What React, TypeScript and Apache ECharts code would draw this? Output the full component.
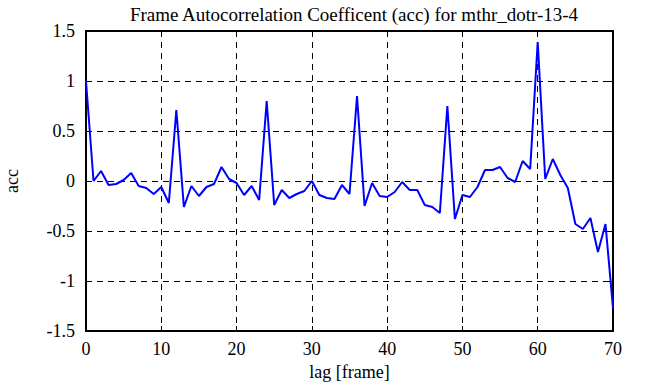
import React, { useEffect, useRef } from "react";
import * as echarts from "echarts";

const lags: number[] = Array.from({ length: 71 }, (_, i) => i);
const acc: number[] = [
  1.0, 0.0, 0.1, -0.04, -0.03, 0.01, 0.08, -0.05, -0.07, -0.13,
  -0.06, -0.22, 0.71, -0.26, -0.05, -0.15, -0.06, -0.03, 0.14, 0.02,
  -0.02, -0.14, -0.05, -0.19, 0.8, -0.24, -0.09, -0.17, -0.13, -0.1,
  0.0, -0.14, -0.17, -0.18, -0.04, -0.13, 0.85, -0.25, -0.02, -0.15,
  -0.16, -0.11, -0.01, -0.09, -0.09, -0.24, -0.26, -0.32, 0.75, -0.38,
  -0.14, -0.16, -0.06, 0.11, 0.11, 0.14, 0.03, -0.01, 0.2, 0.12,
  1.39, 0.02, 0.22, 0.06, -0.07, -0.43, -0.48, -0.37, -0.71, -0.43,
  -1.27,
];
const titleText = "Frame Autocorrelation Coefficent (acc) for mthr_dotr-13-4";
const xName = "lag [frame]";
const yName = "acc";

const FONT = "Liberation Serif";

export default function App() {
  const ref = useRef<HTMLDivElement>(null);
  useEffect(() => {
    if (!ref.current) return;
    const chart = echarts.init(ref.current, undefined, { renderer: "svg" });
    const data = lags.map((l, i) => [l, acc[i]]);
    const tick = { show: true, inside: true, length: 5, lineStyle: { color: "#000", width: 1 } };
    const hiddenAxisCommon = {
      axisLabel: { show: false },
      splitLine: { show: false },
      axisLine: { show: false, onZero: false },
      axisTick: tick,
    };
    const labelStyle = { fontFamily: FONT, fontSize: 18, color: "#000" };
    const richLabel = {
      formatter: (v: number) => `{t|${v}}`,
      rich: { t: { fontFamily: FONT, fontSize: 18, color: "#000" } },
      fontFamily: FONT,
      fontSize: 18,
      color: "#000",
    };
    chart.setOption({
      animation: false,
      backgroundColor: "#fff",
      textStyle: { fontFamily: FONT },
      title: {
        text: titleText,
        left: 349,
        textAlign: "center",
        top: 0,
        textStyle: { fontFamily: FONT, fontSize: 19, fontWeight: "normal", color: "#000" },
      },
      grid: {
        left: 86,
        right: 33,
        top: 31,
        bottom: 56,
        show: true,
        borderColor: "#000",
        borderWidth: 2,
        backgroundColor: "transparent",
        containLabel: false,
        outerBoundsMode: "none",
      },
      xAxis: [
        {
          type: "value",
          min: 0,
          max: 70,
          interval: 10,
          name: xName,
          nameLocation: "middle",
          nameGap: 28,
          nameTextStyle: labelStyle,
          axisLabel: { ...richLabel, margin: 9 },
          axisLine: { show: true, onZero: false, lineStyle: { color: "#000", width: 2 } },
          axisTick: tick,
          splitLine: { show: true, lineStyle: { color: "#000", type: [6, 5], width: 1 } },
        },
        { type: "value", position: "top", min: 0, max: 70, interval: 10, ...hiddenAxisCommon },
      ],
      yAxis: [
        {
          type: "value",
          min: -1.5,
          max: 1.5,
          interval: 0.5,
          name: yName,
          nameLocation: "middle",
          nameGap: 65,
          nameTextStyle: labelStyle,
          axisLabel: { ...richLabel, margin: 11 },
          axisLine: { show: true, onZero: false, lineStyle: { color: "#000", width: 2 } },
          axisTick: tick,
          splitLine: { show: true, lineStyle: { color: "#000", type: [6, 5], width: 1 } },
        },
        { type: "value", position: "right", min: -1.5, max: 1.5, interval: 0.5, ...hiddenAxisCommon },
      ],
      series: [
        {
          type: "line",
          data,
          xAxisIndex: 0,
          yAxisIndex: 0,
          showSymbol: false,
          symbol: "none",
          lineStyle: { color: "#0000ff", width: 2 },
          z: 3,
        },
      ],
    });
    return () => chart.dispose();
  }, []);
  return <div ref={ref} style={{ width: 646, height: 387, position: "fixed", left: 0, top: 0 }} />;
}
